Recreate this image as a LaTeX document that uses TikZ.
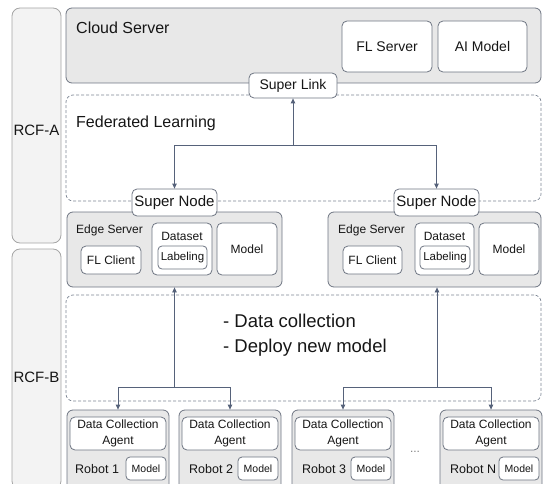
\documentclass[tikz,border=0pt]{standalone}
\usepackage{fontspec}
\setmainfont{Liberation Sans}
\usetikzlibrary{arrows.meta}
\definecolor{boxfill}{HTML}{E8E8E8}
\definecolor{boxline}{HTML}{6E7582}
\definecolor{arrowc}{HTML}{56627A}
\definecolor{zoneline}{HTML}{7D8694}
\definecolor{rcffill}{HTML}{F3F3F3}
\definecolor{rcfline}{HTML}{A5A5A5}
\definecolor{ink}{HTML}{161616}
\newcommand\fs[1]{\fontsize{#1}{#1}\selectfont}
\tikzset{
  x=1pt, y=-1pt,
  every node/.style={text=ink},
  panel/.style={draw=boxline, fill=boxfill, rounded corners=6pt, line width=0.8pt, inner sep=0pt},
  part/.style={draw=boxline, fill=white, rounded corners=5pt, line width=0.8pt, inner sep=0pt, align=center, font=\fs{12}},
  tag/.style={part, rounded corners=4pt},
  zone/.style={draw=zoneline, dash pattern=on 3pt off 2pt, rounded corners=7pt, line width=0.7pt, inner sep=0pt},
  rcf/.style={draw=rcfline, fill=rcffill, rounded corners=8pt, line width=0.8pt, inner sep=0pt},
  caption/.style={inner sep=0pt, anchor=base west},
  flow/.style={draw=arrowc, line width=0.8pt, -{Triangle[length=5pt,width=4.5pt]}},
}
\begin{document}
\begin{tikzpicture}
\useasboundingbox (0,0) rectangle (543,484);
\clip (0,0) rectangle (543,484);

% side bands
\node[rcf, minimum width=49, minimum height=235] (rcfa) at (36.5,125.5) {};
\node[rcf, minimum width=49, minimum height=240] (rcfb) at (36.5,369) {};
\node[inner sep=0pt, font=\fs{15}] (rcfatext) at (36.5,130) {RCF-A};
\node[inner sep=0pt, font=\fs{15}] (rcfbtext) at (36.5,377) {RCF-B};

% cloud tier
\node[panel, minimum width=475, minimum height=75] (cloud) at (303.5,45.5) {};
\node[caption, font=\fs{16}] (cloudtext) at (76,34) {Cloud Server};
\node[part, font=\fs{14}, minimum width=90, minimum height=51] (flserver) at (387,46.5) {FL Server};
\node[part, font=\fs{14}, minimum width=89, minimum height=51] (aimodel) at (482.5,46.5) {AI Model};

% federated learning zone
\node[zone, minimum width=475, minimum height=106] (fedzone) at (303.5,148) {};
\node[caption, font=\fs{16}] (fedtext) at (76,128) {Federated Learning};

% edge servers
\node[panel, minimum width=215, minimum height=75] (edgeL) at (174.5,249.5) {};
\node[panel, minimum width=213, minimum height=75] (edgeR) at (434.5,249.5) {};
\node[caption, font=\fs{12}] (edgeLtext) at (76,233) {Edge Server};
\node[caption, font=\fs{12}] (edgeRtext) at (338,233) {Edge Server};

\node[part, minimum width=60, minimum height=28] (clientL) at (111,260) {FL Client};
\node[part, minimum width=60, minimum height=52] (dataL) at (182,249) {};
\node[inner sep=0pt, anchor=base, font=\fs{12}] (dataLtext) at (182,240) {Dataset};
\node[tag, font=\fs{11.5}, minimum width=49, minimum height=23] (labelL) at (182.5,257.5) {Labeling};
\node[part, minimum width=60, minimum height=52] (modelL) at (247,249) {Model};

\node[part, minimum width=59, minimum height=28] (clientR) at (372.5,260) {FL Client};
\node[part, minimum width=59, minimum height=52] (dataR) at (444.5,249) {};
\node[inner sep=0pt, anchor=base, font=\fs{12}] (dataRtext) at (444.5,240) {Dataset};
\node[tag, font=\fs{11.5}, minimum width=50, minimum height=23] (labelR) at (445,257.5) {Labeling};
\node[part, minimum width=60, minimum height=52] (modelR) at (509,249) {Model};

% link nodes
\node[part, font=\fs{14}, minimum width=88, minimum height=25] (slink) at (293,85.5) {Super Link};
\node[part, font=\fs{15}, minimum width=85, minimum height=27] (snodeL) at (174.5,202.5) {Super Node};
\node[part, font=\fs{15}, minimum width=85, minimum height=27] (snodeR) at (436.5,202.5) {Super Node};

% collection zone
\node[zone, minimum width=475, minimum height=106] (colzone) at (303.5,348) {};
\node[caption, font=\fs{18.5}] (coltext1) at (223,327) {- Data collection};
\node[caption, font=\fs{18.5}] (coltext2) at (223,352) {- Deploy new model};

% robots
\foreach \n/\cx/\lab/\tx in {r1/118/Robot 1/75, r2/230/Robot 2/189, r3/343/Robot 3/302, rn/491/Robot N/450}{
  \node[panel, minimum width=102, minimum height=80] (\n) at (\cx,450) {};
  \node[part, font=\fontsize{12}{16.5}\selectfont, minimum width=96, minimum height=33] (\n agent) at (\cx,433.5) {Data Collection\\Agent};
  \node[tag, font=\fs{10.5}, minimum width=40, minimum height=23] (\n model) at (\cx+28,468.5) {Model};
  \node[caption, font=\fs{12.5}] (\n text) at (\tx,473) {\lab};
}
\node[inner sep=0pt, font=\fs{12}, text=gray] (dots) at (415,452) {...};

% connectors
\coordinate (hubtop) at (293,145);
\coordinate (hubL) at (174.5,387);
\coordinate (hubR) at (437,387);
\draw[flow] (hubtop) -- (slink.south);
\draw[flow] (hubtop) -| (snodeL.north);
\draw[flow] (hubtop) -| (snodeR.north);
\draw[flow] (hubL) -- (edgeL.south);
\draw[flow] (hubL) -| (r1.north);
\draw[flow] (hubL) -| (r2.north);
\draw[flow] (hubR) -- (hubR |- edgeR.south);
\draw[flow] (hubR) -| (r3.north);
\draw[flow] (hubR) -| (rn.north);
\end{tikzpicture}
\end{document}
